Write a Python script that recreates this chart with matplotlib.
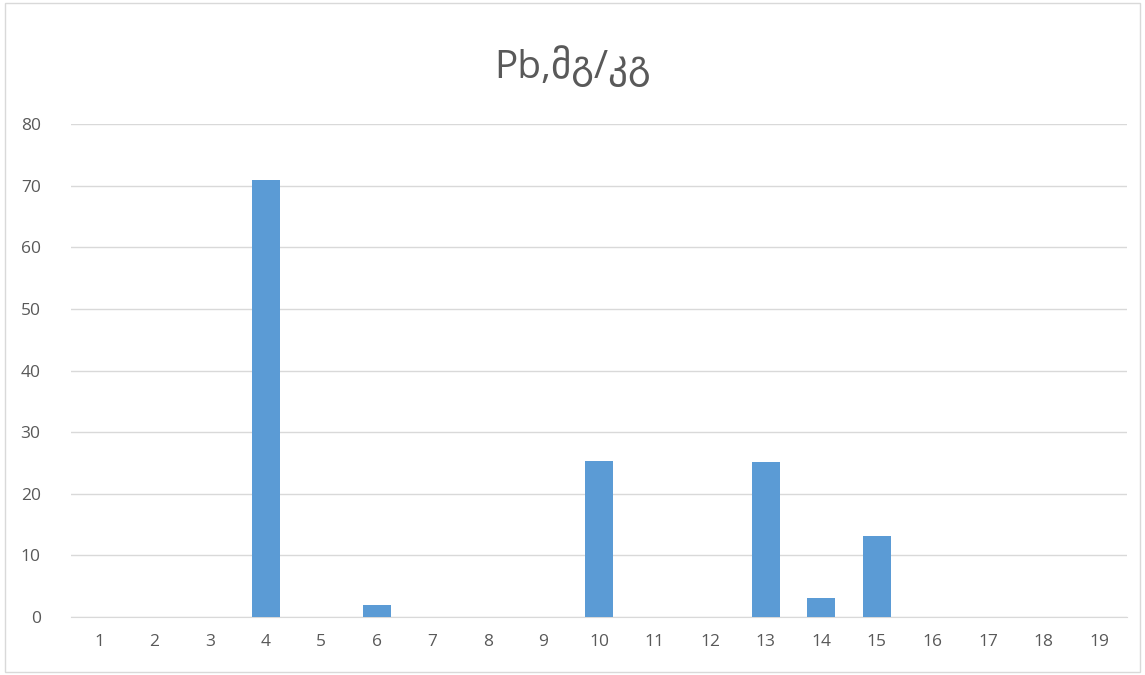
import matplotlib
matplotlib.use("Agg")
import matplotlib.pyplot as plt
import numpy as np

plt.rcParams['font.family'] = ['Open Sans', 'DejaVu Sans']

categories = [str(i) for i in range(1, 20)]
values = [0, 0, 0, 71, 0, 2, 0, 0, 0, 25.3, 0, 0, 25.2, 3.1, 13.2, 0, 0, 0, 0]
title = "Pb,მგ/კგ"

fig = plt.figure(figsize=(11.45, 6.75), dpi=100)
ax = fig.add_axes([0.0622, 0.086, 0.922, 0.730])

x = np.arange(len(categories))
ax.bar(x, values, width=0.5, color='#5b9bd5', zorder=3)

ax.set_xlim(-0.5, len(categories) - 0.5)
ax.set_ylim(0, 80)
ax.set_yticks(range(0, 81, 10))
ax.set_xticks(x)
ax.set_xticklabels(categories)
ax.yaxis.grid(True, color='#d9d9d9', linewidth=1, zorder=0)
ax.tick_params(axis='both', length=0, labelsize=12.5, colors='#595959')
ax.tick_params(axis='x', pad=12)
ax.tick_params(axis='y', pad=22)
for s in ['top', 'right', 'left']:
    ax.spines[s].set_visible(False)
ax.spines['bottom'].set_color('#d9d9d9')

fig.text(0.5, 0.902, title, ha='center', va='center', fontsize=28, color='#595959',
         family=['Open Sans', 'DejaVu Sans'])

# chart border
border = plt.Rectangle((0.004, 0.004), 0.992, 0.992, transform=fig.transFigure,
                       fill=False, edgecolor='#d9d9d9', linewidth=1)
fig.patches.append(border)

fig.savefig('out.png', dpi=100)
